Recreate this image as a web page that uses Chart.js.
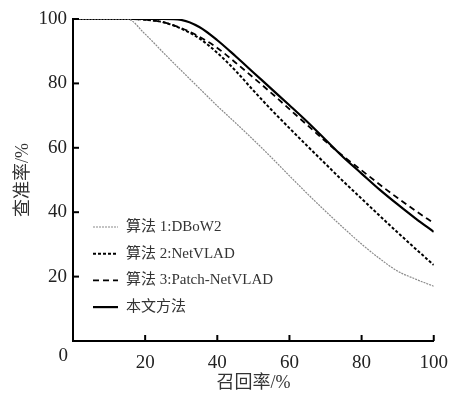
<!DOCTYPE html>
<html lang="zh">
<head>
<meta charset="UTF-8">
<title>查准率-召回率曲线</title>
<script src="https://cdn.jsdelivr.net/npm/chart.js"></script>
<style>
  html, body { margin: 0; padding: 0; background: #fff; }
  .wrap { width: 459px; height: 398px; }
</style>
</head>
<body>
<div class="wrap"><canvas id="prChart" width="459" height="398"></canvas></div>
<script>
// recall (%) sample points
const recall = [0, 5, 10, 15, 20, 25, 30, 35, 40, 45, 50, 55, 60, 65, 70, 75, 80, 85, 90, 95, 100];
const seriesNames = ["算法 1:DBoW2", "算法 2:NetVLAD", "算法 3:Patch-NetVLAD", "本文方法"];
const dbow2 = [100, 100, 100, 100, 95.3, 89.6, 84, 78.5, 73, 67.8, 62.5, 57, 51.3, 45.7, 40.3, 35.1, 30.1, 25.6, 21.7, 19.2, 17];
const netvlad = [100, 100, 100, 100, 99.8, 99, 97, 94, 89.5, 84, 77.8, 71.8, 66.1, 60.5, 55, 49.5, 44.2, 38.9, 33.7, 28.6, 23.6];
const patchNetvlad = [100, 100, 100, 100, 99.8, 99, 97.2, 94.5, 91, 86.5, 81.8, 77, 72, 67, 62, 57.3, 53, 48.6, 44.4, 40.4, 36.6];
const ours = [100, 100, 100, 100, 100, 100, 99.7, 97.5, 93.4, 88.5, 83.4, 78.3, 73.2, 68, 62.5, 57, 52, 47, 42.4, 38, 33.9];
const tickValues = [0, 20, 40, 60, 80, 100];

const serif = '"Liberation Serif", "Noto Sans CJK SC", serif';

function pts(vals) {
  return recall.map((x, i) => ({ x: x, y: vals[i] }));
}

// inward tick marks, the lone "0" at the origin and the in-plot legend
const extras = {
  id: 'extras',
  afterDraw(chart) {
    const ctx = chart.ctx;
    const xs = chart.scales.x, ys = chart.scales.y;
    const a = chart.chartArea;
    ctx.save();
    ctx.strokeStyle = '#000';
    ctx.lineWidth = 2;
    tickValues.forEach(v => {
      if (v === 0) return;
      const px = xs.getPixelForValue(v);
      ctx.beginPath(); ctx.moveTo(px, a.bottom); ctx.lineTo(px, a.bottom - 6); ctx.stroke();
      const py = ys.getPixelForValue(v);
      ctx.beginPath(); ctx.moveTo(a.left, py); ctx.lineTo(a.left + 6, py); ctx.stroke();
    });

    ctx.fillStyle = '#222';
    ctx.font = '19px ' + serif;
    ctx.textAlign = 'right';
    ctx.textBaseline = 'middle';
    ctx.fillText('0', a.left - 5, ys.getPixelForValue(0) + 15);

    // legend
    ctx.font = '15px ' + serif;
    ctx.textAlign = 'left';
    chart.data.datasets.forEach((ds, i) => {
      const y = a.bottom - 114 + i * 26.7;
      const x0 = a.left + 20;
      ctx.strokeStyle = ds.borderColor;
      ctx.lineWidth = ds.borderWidth;
      ctx.setLineDash(ds.borderDash || []);
      ctx.beginPath(); ctx.moveTo(x0, y); ctx.lineTo(x0 + 25, y); ctx.stroke();
      ctx.setLineDash([]);
      ctx.fillStyle = '#333';
      ctx.fillText(ds.label, x0 + 33, y);
    });
    ctx.restore();
  }
};

const axisCommon = {
  type: 'linear',
  min: 0,
  max: 100,
  grid: { display: true, drawOnChartArea: false, drawTicks: false },
  border: { display: true, color: '#000', width: 2 },
  ticks: {
    stepSize: 20,
    color: '#222',
    font: { family: serif, size: 19 },
    callback: v => (v === 0 ? '' : v)
  }
};

new Chart(document.getElementById('prChart'), {
  type: 'line',
  data: {
    datasets: [
      { label: seriesNames[0], data: pts(dbow2), borderColor: '#8a8a8a', borderWidth: 1.2, borderDash: [2, 1] },
      { label: seriesNames[1], data: pts(netvlad), borderColor: '#000', borderWidth: 2, borderDash: [3, 2] },
      { label: seriesNames[2], data: pts(patchNetvlad), borderColor: '#000', borderWidth: 1.8, borderDash: [6, 4] },
      { label: seriesNames[3], data: pts(ours), borderColor: '#000', borderWidth: 2.2 }
    ]
  },
  options: {
    responsive: false,
    animation: false,
    devicePixelRatio: 1,
    layout: { padding: { top: 19, right: 21, left: 0, bottom: 0 } },
    elements: {
      point: { radius: 0 },
      line: { cubicInterpolationMode: 'monotone', fill: false }
    },
    plugins: { legend: { display: false }, tooltip: { enabled: false } },
    scales: {
      x: Object.assign({}, axisCommon, {
        ticks: Object.assign({}, axisCommon.ticks, { padding: 11, maxRotation: 0 }),
        title: { display: true, text: '召回率/%', color: '#333', font: { family: serif, size: 18 }, padding: { top: 0, bottom: 4 } },
        afterFit: s => { s.height = 57; }
      }),
      y: Object.assign({}, axisCommon, {
        ticks: Object.assign({}, axisCommon.ticks, { padding: 6 }),
        title: { display: true, text: '查准率/%', color: '#333', font: { family: serif, size: 18 }, padding: { top: 12, bottom: 0 } },
        afterFit: s => { s.width = 73; }
      })
    }
  },
  plugins: [extras]
});
</script>
</body>
</html>
